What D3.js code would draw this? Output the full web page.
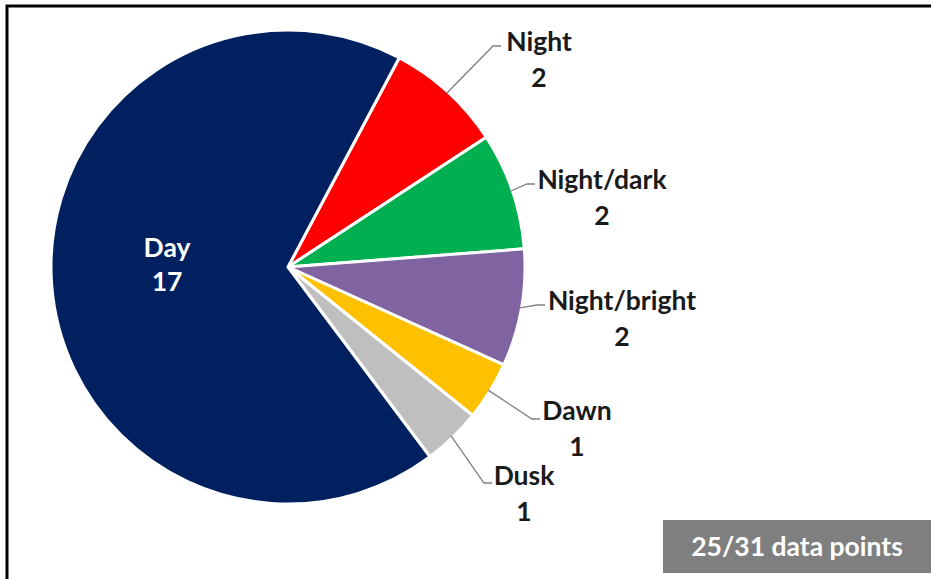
<!DOCTYPE html>
<html>
<head>
<meta charset="utf-8">
<script src="https://cdn.jsdelivr.net/npm/d3@7"></script>
<style>
  body { margin: 0; background: #fff; }
  text { font-family: Lato, "Open Sans", sans-serif; font-weight: bold; }
</style>
</head>
<body>
<svg id="chart" width="931" height="579"></svg>
<script>
// chart data
var categories = ['Night', 'Night/dark', 'Night/bright', 'Dawn', 'Dusk', 'Day'];
var counts = [2, 2, 2, 1, 1, 17];
var colors = ['#ff0000', '#00b050', '#8064a2', '#ffc000', '#bfbfbf', '#002060'];
var badgeText = '25/31 data points';

// label anchor (text center) for each slice, plus leader elbow
var labelPos = {
    'Night':        {x: 539, y: 42,  elbow: [493, 46],  end: 501},
    'Night/dark':   {x: 602, y: 180, elbow: [527, 184], end: 535},
    'Night/bright': {x: 622, y: 301, elbow: [537, 305], end: 545},
    'Dawn':         {x: 577, y: 411, elbow: [532, 419], end: 540},
    'Dusk':         {x: 524, y: 476, elbow: [484, 483], end: 492}
};

var data = categories.map(function(c, i) {
    return {name: c, value: counts[i], color: colors[i]};
});

var svg = d3.select('#chart');

// frame (top and left edges visible)
svg.append('path')
    .attr('d', 'M7,600 L7,6 L940,6')
    .attr('fill', 'none')
    .attr('stroke', '#000')
    .attr('stroke-width', 3);

var cx = 288, cy = 267, radius = 237;
var fontSize = 26.5;

var startA = 28 * Math.PI / 180;
var pie = d3.pie()
    .value(function(d) { return d.value; })
    .sort(null)
    .startAngle(startA)
    .endAngle(startA + 2 * Math.PI);

var arc = d3.arc().innerRadius(0).outerRadius(radius);

var g = svg.append('g').attr('transform', 'translate(' + [cx, cy] + ')');

var arcs = pie(data);

g.selectAll('path.slice')
    .data(arcs)
    .enter()
    .append('path')
    .attr('class', 'slice')
    .attr('d', arc)
    .attr('fill', function(d) { return d.data.color; })
    .attr('stroke', '#fff')
    .attr('stroke-width', 3)
    .attr('stroke-linejoin', 'round');

// leader lines
arcs.forEach(function(d) {
    var p = labelPos[d.data.name];
    if (!p) return;
    var mid = (d.startAngle + d.endAngle) / 2;
    var sx = cx + Math.sin(mid) * (radius - 2);
    var sy = cy - Math.cos(mid) * (radius - 2);
    svg.append('polyline')
        .attr('points', [[sx, sy], p.elbow, [p.end, p.elbow[1]]].join(' '))
        .attr('fill', 'none')
        .attr('stroke', '#808080')
        .attr('stroke-width', 1.3);
    var t = svg.append('text')
        .attr('x', p.x)
        .attr('y', p.y)
        .attr('text-anchor', 'middle')
        .attr('font-size', fontSize)
        .attr('fill', '#1a1a1a');
    t.append('tspan').attr('x', p.x).attr('dy', '0.35em').text(d.data.name);
    t.append('tspan').attr('x', p.x).attr('dy', '1.33em').text(d.data.value);
});

// Day label inside its slice
var day = arcs[arcs.length - 1];
var dayText = svg.append('text')
    .attr('text-anchor', 'middle')
    .attr('font-size', fontSize)
    .attr('fill', '#fff');
dayText.append('tspan').attr('x', 167).attr('y', 248).attr('dy', '0.35em').text(day.data.name);
dayText.append('tspan').attr('x', 167).attr('y', 282).attr('dy', '0.35em').text(day.data.value);

// data points badge
svg.append('rect')
    .attr('x', 663).attr('y', 520)
    .attr('width', 268).attr('height', 53)
    .attr('fill', '#7f7f7f');
svg.append('text')
    .attr('x', 797).attr('y', 547)
    .attr('dy', '0.35em')
    .attr('text-anchor', 'middle')
    .attr('font-size', fontSize)
    .attr('fill', '#fff')
    .text(badgeText);
</script>
</body>
</html>
